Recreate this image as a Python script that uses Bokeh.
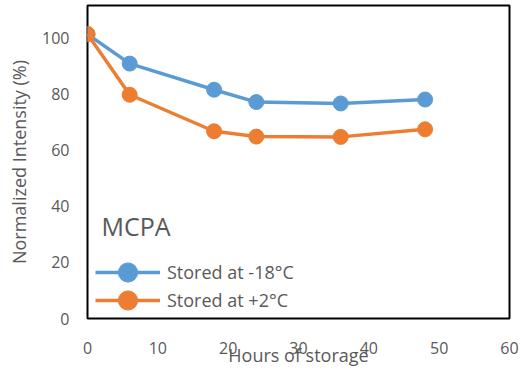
from bokeh.plotting import figure
from bokeh.models import Label, Legend, LegendItem, FixedTicker, Range1d
from bokeh.embed import file_html
from bokeh.resources import INLINE

hours = [0, 6, 18, 24, 36, 48]
frozen = [101.3, 90.8, 81.5, 77.1, 76.6, 78.0]
chilled = [101.3, 79.7, 66.7, 64.8, 64.7, 67.4]
x_ticks = [0, 10, 20, 30, 40, 50, 60]
y_ticks = [0, 20, 40, 60, 80, 100]

BLUE = "#5B9BD5"
ORANGE = "#ED7D31"
GRAY = "#595959"
FONT = "Open Sans"

p = figure(width=527, height=373, output_backend="svg", toolbar_location=None,
           x_range=Range1d(0, 60), y_range=Range1d(0, 111.5),
           min_border_left=87, min_border_right=18, min_border_top=5, min_border_bottom=55)
p.grid.visible = False
p.outline_line_color = "black"
p.outline_line_width = 2
p.background_fill_color = "white"
p.border_fill_color = "white"

for ax in (p.xaxis[0], p.yaxis[0]):
    ax.axis_line_color = None
    ax.major_tick_line_color = None
    ax.minor_tick_line_color = None
    ax.major_label_text_font = FONT
    ax.major_label_text_font_size = "16px"
    ax.major_label_text_color = GRAY
    ax.axis_label_text_font = FONT
    ax.axis_label_text_font_size = "18px"
    ax.axis_label_text_font_style = "normal"
    ax.axis_label_text_color = GRAY

p.xaxis.ticker = FixedTicker(ticks=x_ticks)
p.yaxis.ticker = FixedTicker(ticks=y_ticks)
p.xaxis.major_label_standoff = 17
p.yaxis.major_label_standoff = 12

p.yaxis.axis_label = "Normalized Intensity (%)"
p.yaxis.axis_label_standoff = 8
p.xaxis.axis_label = "Hours of storage"
p.xaxis.axis_label_standoff = -14

l1 = p.line(hours, frozen, line_color=BLUE, line_width=3.5)
s1 = p.scatter(hours, frozen, size=15, fill_color=BLUE, line_color=BLUE)
l2 = p.line(hours, chilled, line_color=ORANGE, line_width=3.5)
s2 = p.scatter(hours, chilled, size=15, fill_color=ORANGE, line_color=ORANGE)

common = dict(padding=0, glyph_width=65, glyph_height=48, label_standoff=7,
              label_text_font=FONT, label_text_font_size="18px", label_text_color=GRAY,
              background_fill_alpha=0, border_line_color=None, margin=0)
leg1 = Legend(items=[LegendItem(label="Stored at -18°C", renderers=[l1, s1])],
              location=(8, 22), **common)
leg2 = Legend(items=[LegendItem(label="Stored at +2°C", renderers=[l2, s2])],
              location=(8, -6), **common)
p.add_layout(leg1, "center")
p.add_layout(leg2, "center")

p.add_layout(Label(x=2, y=33, text="MCPA", text_font=FONT, text_font_size="25px",
                   text_color=GRAY, text_baseline="middle"))

open("out.html", "w").write(file_html(p, INLINE))
